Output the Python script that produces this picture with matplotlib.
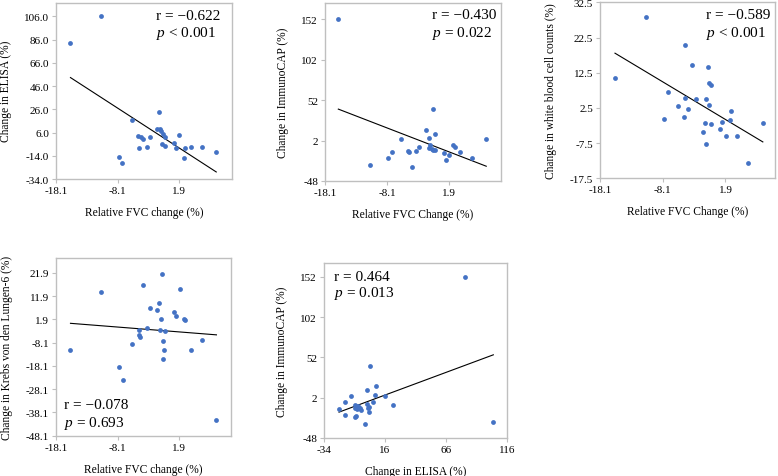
import numpy as np
import matplotlib
matplotlib.use("Agg")
import matplotlib.pyplot as plt

plt.rcParams['font.family'] = ['Liberation Serif', 'DejaVu Serif']
plt.rcParams['mathtext.fontset'] = 'custom'
plt.rcParams['mathtext.rm'] = 'Liberation Serif'
plt.rcParams['mathtext.it'] = 'Liberation Serif:italic'
plt.rcParams['axes.unicode_minus'] = False

# ---- Panel 1: Relative FVC change vs change in ELISA
p1_x = [-15.75, -10.77, -5.69, -1.31, -1.68, -1.15, -0.99, -0.67, -0.35, -4.73, -4.36, -3.93, -2.81,
        -4.62, -3.39, -0.88, -0.45, 1.10, 1.95, 1.42, 2.86, 3.77, 5.59, 2.65, 7.94, -7.83, -7.30]
p1_y = [83.0, 106.0, 16.9, 23.5, 9.1, 9.1, 7.7, 4.8, 1.9, 3.4, 1.9, 0.5, 2.5,
        -7.6, -6.7, -3.8, -5.3, -3.0, 4.2, -7.3, -7.3, -6.1, -6.7, -16.2, -11.0, -15.3, -20.5]

# ---- Panel 2: Relative FVC change vs change in ImmunoCAP
p2_x = [-15.95, -10.84, -7.94, -7.35, -5.84, -4.77, -4.55, -4.01, -3.48, -2.88, -1.76, -1.27, -1.38, -1.16,
        -0.90, -0.63, -0.41, -0.73, -0.36, 1.09, 1.42, 1.95, 2.60, 2.81, 3.73, 5.56, 7.92]
p2_y = [151.7, -27.7, -19.4, -11.6, 4.1, -10.4, -11.6, -30.2, -11.2, -6.2, 15.6, 5.7, -7.1, -3.8,
        -7.9, -9.1, -10.0, 40.8, 10.7, -12.8, -21.9, -15.3, -3.8, -6.2, -12.4, -19.4, 4.1]

# ---- Panel 3: Relative FVC change vs change in white blood cell counts
p3_x = [-15.71, -10.71, -7.83, -7.30, -5.71, -4.64, -4.54, -4.54, -4.00, -3.42, -2.83, -1.72, -1.34, -1.24,
        -1.13, -0.92, -0.71, -0.65, -0.44, -0.33, 1.10, 1.42, 1.95, 2.64, 2.75, 3.71, 5.52, 7.86]
p3_y = [10.9, 28.4, -0.6, 6.9, 2.9, 0.0, 20.5, 5.4, 2.2, 14.7, 5.1, -4.3, -1.8, -7.7,
        5.1, 14.0, 9.6, 3.4, -2.2, 9.1, -3.4, -1.4, -5.6, -1.0, 1.5, -5.5, -13.2, -1.8]

# ---- Panel 4: Relative FVC change vs change in KL-6
p4_x = [-15.75, -10.77, -7.83, -7.30, -5.69, -4.62, -4.52, -4.57, -3.93, -3.39, -2.81, -1.74, -1.36, -1.10,
        -1.20, -0.83, -0.67, -0.51, -0.67, -0.35, 1.10, 1.42, 2.01, 2.65, 2.86, 3.77, 5.59, 7.94]
p4_y = [-11.4, 13.8, -18.4, -24.1, -8.8, -5.0, -5.5, -2.7, 16.5, -2.0, 6.9, 5.9, 9.0, 2.0,
        -2.8, 21.3, -7.2, -11.2, -15.0, -3.2, 4.9, 3.3, 14.8, 1.9, 1.5, -11.2, -7.1, -41.5]

# ---- Panel 5: change in ELISA vs change in ImmunoCAP
p5_x = [-21.7, -17.1, -16.5, -12.1, -8.9, -8.6, -8.3, -7.5, -7.2, -5.9, -4.5, -3.4, -0.1, 1.2,
        1.2, 1.8, 2.6, 3.2, 3.7, 6.4, 8.3, 8.1, 16.0, 22.6, 81.6, 104.8]
p5_y = [-11.6, -3.8, -19.9, 3.7, -10.8, -6.7, -21.9, -20.3, -12.0, -8.7, -10.4, -12.9, -30.6, 11.1,
        -6.3, -10.8, -9.1, -15.7, 40.8, -3.8, 16.0, 5.7, 3.7, -7.5, 151.3, -28.1]

fvc_ticks = [-18.1, -8.1, 1.9]
fvc_tick_labels = ['-18.1', '-8.1', '1.9']
p1_yticks = [-34, -14, 6, 26, 46, 66, 86, 106]
p1_ytick_labels = ['-34.0', '-14.0', '6.0', '26.0', '46.0', '66.0', '86.0', '106.0']
cap_ticks = [-48, 2, 52, 102, 152]
cap_tick_labels = ['-48', '2', '52', '102', '152']
p3_yticks = [-17.5, -7.5, 2.5, 12.5, 22.5, 32.5]
p3_ytick_labels = ['-17.5', '-7.5', '2.5', '12.5', '22.5', '32.5']
p4_yticks = [-48.1, -38.1, -28.1, -18.1, -8.1, 1.9, 11.9, 21.9]
p4_ytick_labels = ['-48.1', '-38.1', '-28.1', '-18.1', '-8.1', '1.9', '11.9', '21.9']
p5_xticks = [-34, 16, 66, 116]
p5_xtick_labels = ['-34', '16', '66', '116']

W, H = 778, 477
fig = plt.figure(figsize=(W / 100, H / 100), dpi=100)

BLUE = '#4472C4'
SPINE = '#BFBFBF'


def px_axes(l, t, r, b):
    return fig.add_axes([l / W, 1 - b / H, (r - l) / W, (b - t) / H])


def panel(ax, x, y, xlim, ylim, xt, xtl, yt, ytl, xlabel, ylabel, r_txt, p_txt, tx, ty_r, ty_p):
    x = np.asarray(x); y = np.asarray(y)
    ax.scatter(x, y, s=12, color=BLUE, zorder=3, linewidths=0)
    k, b = np.polyfit(x, y, 1)
    xs = np.array([x.min(), x.max()])
    ax.plot(xs, k * xs + b, color='black', lw=0.8, zorder=2)
    ax.set_xlim(*xlim); ax.set_ylim(*ylim)
    ax.set_xticks(xt); ax.set_xticklabels(xtl)
    ax.set_yticks(yt); ax.set_yticklabels(ytl)
    ax.tick_params(labelsize=8, length=3, width=0.8, color=SPINE, pad=2)
    for s in ax.spines.values():
        s.set_color(SPINE); s.set_linewidth(1.0)
    ax.set_xlabel(xlabel, fontsize=8.3, labelpad=8)
    ax.set_ylabel(ylabel, fontsize=8.3, labelpad=9)
    ax.text(tx, ty_r, r_txt, transform=ax.transAxes, fontsize=11, va='center', ha='left')
    ax.text(tx, ty_p, p_txt, transform=ax.transAxes, fontsize=11, va='center', ha='left')


ax1 = px_axes(56, 3.5, 232, 180)
panel(ax1, p1_x, p1_y, (-18.1, 10.5), (-34, 118), fvc_ticks, fvc_tick_labels, p1_yticks, p1_ytick_labels,
      'Relative FVC change (%)', 'Change in ELISA (%)', 'r = \u22120.622', '$p$ < 0.001', 0.57, 0.925, 0.83)

ax2 = px_axes(325, 4, 501, 182)
panel(ax2, p2_x, p2_y, (-18.1, 10.3), (-48, 172), fvc_ticks, fvc_tick_labels, cap_ticks, cap_tick_labels,
      'Relative FVC Change (%)', 'Change in ImmunoCAP (%)', 'r = \u22120.430', '$p$ = 0.022', 0.61, 0.938, 0.837)

ax3 = px_axes(600, 3.3, 775, 179.3)
panel(ax3, p3_x, p3_y, (-18.1, 9.8), (-17.5, 32.5), fvc_ticks, fvc_tick_labels, p3_yticks, p3_ytick_labels,
      'Relative FVC Change (%)', 'Change in white blood cell counts (%)', 'r = \u22120.589', '$p$ < 0.001',
      0.605, 0.93, 0.83)

ax4 = px_axes(56, 259, 231, 436.7)
panel(ax4, p4_x, p4_y, (-18.1, 10.3), (-48.1, 28.3), fvc_ticks, fvc_tick_labels, p4_yticks, p4_ytick_labels,
      'Relative FVC change (%)', 'Change in Krebs von den Lungen-6 (%)', 'r = \u22120.078', '$p$ = 0.693',
      0.047, 0.173, 0.075)

ax5 = px_axes(324, 264, 507, 439)
panel(ax5, p5_x, p5_y, (-34, 116), (-48, 169), p5_xticks, p5_xtick_labels, cap_ticks, cap_tick_labels,
      'Change in ELISA (%)', 'Change in ImmunoCAP (%)', 'r = 0.464', '$p$ = 0.013', 0.055, 0.924, 0.833)

fig.savefig('out.png', dpi=100)
